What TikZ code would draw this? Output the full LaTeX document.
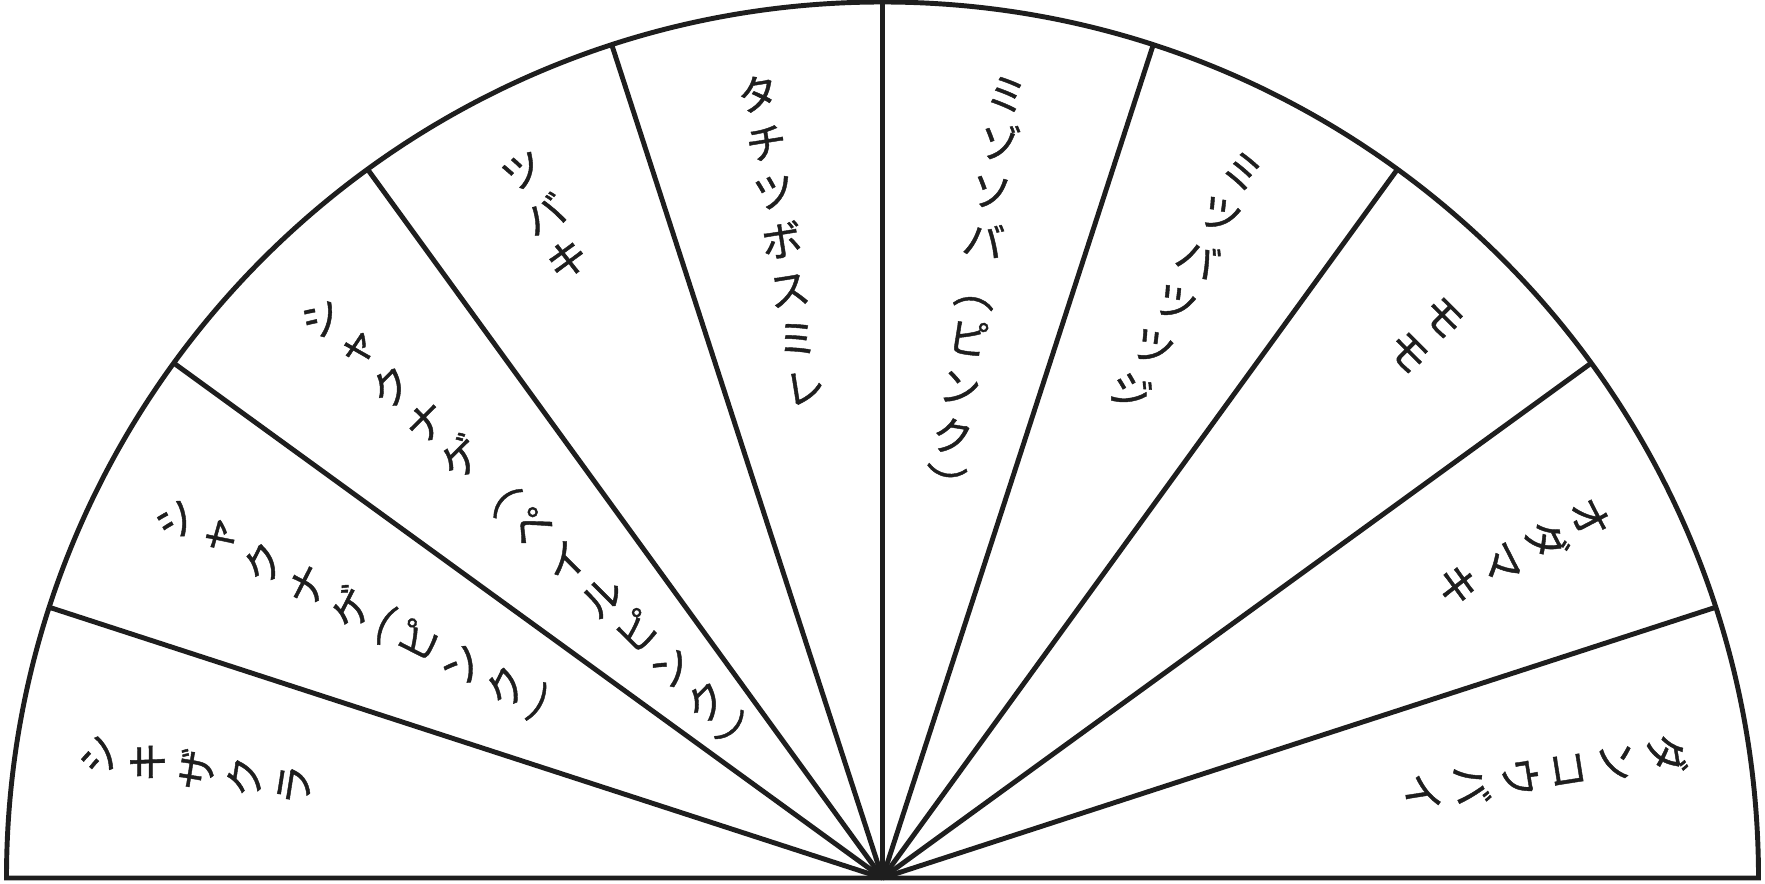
\documentclass[tikz,border=0pt]{standalone}
\usepackage{fontspec}
\newfontfamily\jp[RawFeature=+vert, FakeBold=1]{Noto Sans CJK JP}
\definecolor{ink}{RGB}{30,30,30}
\newcommand{\po}{(}
\newcommand{\pc}{)}

\begin{document}
\begin{tikzpicture}[line width=1.4pt, draw=ink,
    kana/.style={font=\jp\fontsize{12}{14}\selectfont, text=ink, inner sep=0pt,
      text height=10.56pt, text depth=1.44pt},
    paren/.style={font=\jp\fontsize{12}{14}\selectfont, text=ink, inner sep=0pt}]
  \useasboundingbox (-8.825,-0.05) rectangle (8.825,8.78);
  \coordinate (O) at (0,0);
  \draw (8.76,0) arc[start angle=0, end angle=180, radius=8.76] -- cycle;
  \foreach \a in {18,36,...,162}
    \draw (O) -- (\a:8.76);
  \foreach \a/\txt in {9/{ダ,ン,コ,ウ,バ,イ}, 27/{オ,ダ,マ,キ}, 45/{モ,モ},
      63/{ミ,ツ,バ,ツ,ツ,ジ}, 81/{ミ,ゾ,ソ,バ,︵,ピ,ン,ク,︶},
      99/{タ,チ,ツ,ボ,ス,ミ,レ}, 117/{ツ,バ,キ},
      135/{シ,ャ,ク,ナ,ゲ,︵,ペ,イ,ル,ピ,ン,ク,︶}, 171/{シ,キ,ザ,ク,ラ}}
    \foreach \c [count=\k from 0] in \txt
      \node[kana, rotate=\a-90] (t\a-\k) at (\a:{7.94-0.495*\k}) {\c};
  \foreach \c/\r [count=\k] in {シ/0, ャ/1, ク/2, ナ/3, ゲ/4, ピ/5.5, ン/6.5, ク/7.5}
    \node[kana, rotate=63] (p\k) at (153:{7.94-0.495*\r}) {\c};
  \foreach \c/\r [count=\k] in {\po/4.75, \pc/8.25}
    \node[paren, rotate=-27] (q\k) at (153:{7.94-0.495*\r}) {\c};
\end{tikzpicture}
\end{document}
